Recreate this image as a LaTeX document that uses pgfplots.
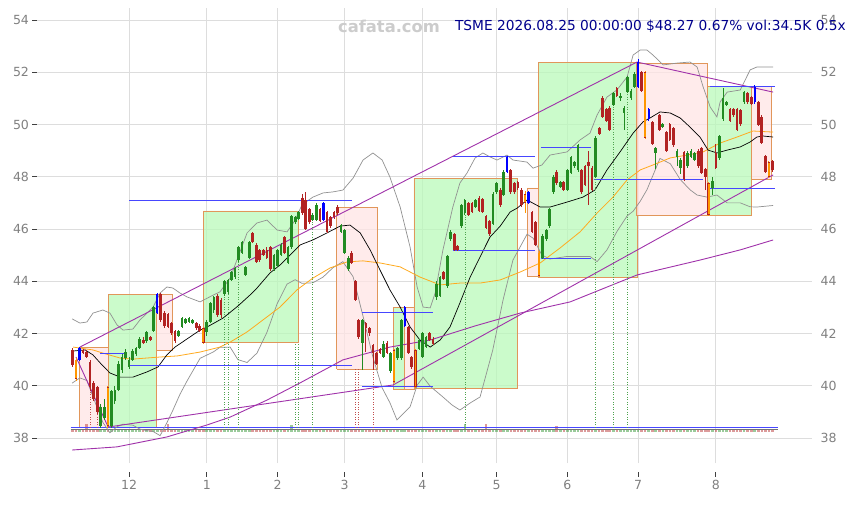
\documentclass[border=0pt]{standalone}
\usepackage{fontspec}
\setmainfont{DejaVu Sans}
\usepackage{pgfplots}
\usepackage{pgfplotstable}
\pgfplotsset{compat=1.18}
\definecolor{cgreen}{RGB}{34,139,34}
\definecolor{cred}{RGB}{178,34,34}
\definecolor{cblue}{RGB}{0,0,255}
\definecolor{corange}{RGB}{255,150,0}
\definecolor{boxg}{RGB}{185,250,185}
\definecolor{boxr}{RGB}{255,228,228}
\definecolor{boxedge}{RGB}{225,150,90}
\definecolor{tickgrey}{RGB}{128,128,128}
\definecolor{gridgrey}{RGB}{221,221,221}
\definecolor{purp}{RGB}{160,50,170}
\definecolor{bbgrey}{RGB}{145,145,145}
\definecolor{navy2}{RGB}{0,0,140}
\definecolor{wm}{RGB}{204,204,204}
\definecolor{hblue}{RGB}{70,70,255}
\definecolor{maorange}{RGB}{255,170,30}

\pgfplotstableread{
i o h l c t v
0 41.35 41.45 40.70 40.80 0 0.13
1 41.00 41.05 40.20 40.25 3 0.12
2 41.00 41.50 40.95 41.45 2 0.13
3 41.35 41.40 41.20 41.25 0 0.12
4 41.30 41.35 41.05 41.10 0 0.32
5 40.90 41.00 39.80 39.95 0 0.13
6 40.10 40.20 39.40 39.50 0 0.12
7 39.95 40.00 38.90 39.00 0 0.14
8 38.45 39.30 38.40 39.20 1 0.13
9 38.75 39.50 38.70 39.20 1 0.12
10 39.95 40.00 38.40 38.45 3 0.14
11 38.45 39.85 38.40 39.80 1 0.13
12 39.40 40.00 39.30 39.85 1 0.12
13 39.85 40.95 39.80 40.85 1 0.13
14 40.60 41.20 40.50 41.10 1 0.12
15 41.05 41.40 41.00 41.30 1 0.13
16 40.70 41.10 40.65 41.00 1 0.12
17 41.00 41.40 40.95 41.33 1 0.13
18 41.20 41.50 41.15 41.45 1 0.12
19 41.45 41.85 41.40 41.80 1 0.13
20 41.75 41.85 41.60 41.65 0 0.12
21 41.70 42.10 41.65 42.05 1 0.13
22 41.85 41.90 41.70 41.75 0 0.12
23 42.10 43.05 42.05 43.00 1 0.14
24 42.80 43.55 42.75 43.50 2 0.13
25 43.50 43.55 42.45 42.50 0 0.13
26 42.80 42.85 42.20 42.30 0 0.12
27 42.75 42.80 42.20 42.25 0 0.32
28 42.40 42.45 41.95 42.00 0 0.13
29 42.10 42.15 41.65 41.70 0 0.12
30 41.90 42.15 41.85 42.10 1 0.13
31 42.25 42.65 42.20 42.60 1 0.12
32 42.40 42.60 42.35 42.55 1 0.13
33 42.45 42.65 42.40 42.60 1 0.12
34 42.40 42.55 42.35 42.50 1 0.13
35 42.40 42.45 42.15 42.20 0 0.12
36 42.30 42.35 42.05 42.10 0 0.13
37 42.20 42.25 41.60 41.65 3 0.12
38 42.05 42.50 41.90 42.45 1 0.13
39 42.45 43.20 42.40 43.15 1 0.12
40 42.90 43.45 42.80 43.40 1 0.13
41 43.45 43.50 42.65 42.70 0 0.12
42 43.30 43.35 42.60 42.70 0 0.13
43 43.50 44.05 43.45 44.00 1 0.12
44 43.60 44.10 43.50 44.05 1 0.13
45 44.05 44.40 44.00 44.35 1 0.12
46 44.15 44.55 44.10 44.50 1 0.13
47 44.80 45.35 44.75 45.30 1 0.12
48 45.10 45.55 45.05 45.50 1 0.13
49 44.25 44.60 44.20 44.55 1 0.12
50 44.90 45.55 44.85 45.50 1 0.13
51 45.85 45.90 45.45 45.50 0 0.12
52 45.40 45.45 44.70 44.75 0 0.13
53 45.20 45.25 44.75 44.80 0 0.12
54 45.20 45.25 44.95 45.00 0 0.13
55 45.20 45.30 44.85 44.90 0 0.12
56 45.30 45.35 44.40 44.45 0 0.13
57 44.45 45.05 44.40 45.00 1 0.12
58 44.60 45.25 44.55 45.20 1 0.13
59 45.00 45.45 44.95 45.40 1 0.12
60 45.70 45.75 45.05 45.10 0 0.13
61 44.70 45.35 44.65 45.30 1 0.12
62 45.30 46.55 45.25 46.50 1 0.28
63 46.25 46.50 46.20 46.45 1 0.12
64 46.40 46.70 46.35 46.65 1 0.13
65 47.20 47.35 46.55 46.60 0 0.12
66 47.10 47.40 45.95 46.00 0 0.13
67 46.75 46.80 46.20 46.25 0 0.12
68 46.35 46.60 46.30 46.55 1 0.13
69 46.35 47.00 46.30 46.90 1 0.12
70 46.75 46.80 46.25 46.30 0 0.13
71 46.35 47.05 46.30 47.00 2 0.12
72 46.65 46.70 45.85 45.90 0 0.13
73 46.45 46.50 46.05 46.10 0 0.12
74 46.65 46.70 46.40 46.45 0 0.13
75 46.85 46.90 46.55 46.60 0 0.12
76 45.90 46.20 45.85 46.15 1 0.13
77 45.10 46.00 45.05 45.95 1 0.12
78 44.45 44.95 44.40 44.90 1 0.13
79 45.10 45.15 44.65 44.70 0 0.12
80 44.00 44.05 43.25 43.30 0 0.13
81 42.50 42.55 41.80 41.85 0 0.12
82 41.65 42.55 40.60 42.50 1 0.13
83 42.40 42.45 41.30 42.20 0 0.12
84 42.20 42.25 41.90 42.00 0 0.13
85 41.55 41.60 40.60 41.25 0 0.12
86 41.25 41.30 40.80 40.85 0 0.13
87 41.40 41.45 41.20 41.25 0 0.12
88 41.10 41.70 41.05 41.60 1 0.13
89 41.65 41.70 41.20 41.25 0 0.12
90 40.55 41.30 40.50 41.25 1 0.13
91 41.35 41.40 40.10 40.15 3 0.12
92 41.05 41.50 41.00 41.45 1 0.13
93 41.05 42.55 41.00 42.50 1 0.12
94 42.30 43.05 42.25 43.00 2 0.13
95 42.25 42.30 41.20 41.25 0 0.12
96 41.10 41.15 40.65 40.70 0 0.13
97 41.35 41.40 39.90 39.95 3 0.12
98 41.40 41.80 41.35 41.75 1 0.13
99 41.10 42.05 41.05 42.00 1 0.12
100 41.50 41.90 41.45 41.85 1 0.13
101 42.00 42.05 41.70 41.75 0 0.12
102 41.80 41.85 41.55 41.60 0 0.13
103 43.40 44.00 43.30 43.90 1 0.12
104 43.45 44.20 43.40 44.15 1 0.13
105 44.35 44.40 44.05 44.10 0 0.12
106 43.80 45.00 43.75 44.95 1 0.13
107 45.60 45.95 45.55 45.90 1 0.12
108 45.80 45.85 45.15 45.20 0 0.13
109 45.35 45.40 45.15 45.20 0 0.12
110 46.10 46.95 46.05 46.90 1 0.13
111 46.60 47.15 46.55 47.10 1 0.32
112 47.00 47.05 46.50 46.55 0 0.13
113 47.00 47.05 46.60 46.65 0 0.12
114 46.85 47.15 46.80 47.10 1 0.13
115 47.20 47.25 46.65 46.70 0 0.12
116 47.15 47.20 46.60 46.65 0 0.13
117 46.50 46.55 46.00 46.05 0 0.32
118 46.30 46.35 45.75 45.80 0 0.13
119 46.20 47.40 46.15 47.35 1 0.12
120 47.40 47.80 47.35 47.75 1 0.13
121 47.50 47.55 46.85 46.90 0 0.12
122 47.30 48.25 47.25 48.20 1 0.13
123 48.20 48.80 48.15 48.75 2 0.12
124 48.25 48.30 47.35 47.40 0 0.13
125 47.75 47.80 47.35 47.40 0 0.12
126 47.80 47.85 47.50 47.55 0 0.13
127 47.50 47.55 46.85 46.90 0 0.12
128 47.35 47.45 46.60 47.00 3 0.13
129 47.00 47.45 46.95 47.40 2 0.12
130 46.65 46.70 45.85 45.90 0 0.13
131 46.25 46.30 45.35 45.40 0 0.12
132 45.10 45.15 44.15 44.20 3 0.13
133 44.90 45.80 44.85 45.75 1 0.12
134 45.60 46.00 45.55 45.95 1 0.13
135 46.10 46.80 46.05 46.75 1 0.12
136 47.40 48.05 47.35 48.00 1 0.13
137 48.20 48.25 47.70 47.75 0 0.25
138 47.60 47.85 47.55 47.80 1 0.13
139 47.80 47.85 47.45 47.50 0 0.12
140 47.50 48.30 47.45 48.25 1 0.13
141 48.15 48.80 48.10 48.75 1 0.12
142 48.40 48.60 48.35 48.55 1 0.13
143 48.25 49.25 48.20 49.20 1 0.12
144 48.25 48.30 47.35 47.40 0 0.13
145 48.40 48.45 47.65 47.70 0 0.12
146 48.55 49.00 46.90 48.40 0 0.13
147 48.35 48.40 47.45 47.50 0 0.12
148 48.00 49.55 47.95 49.50 1 0.13
149 49.85 49.90 49.60 49.65 0 0.12
150 51.00 51.10 50.25 50.30 0 0.13
151 50.60 50.65 50.10 50.15 0 0.12
152 50.65 50.70 49.75 49.80 0 0.13
153 50.75 51.25 50.70 51.20 1 0.12
154 51.40 51.45 51.05 51.10 0 0.13
155 51.00 51.20 50.90 51.10 1 0.12
156 50.45 50.70 49.80 50.65 1 0.13
157 51.25 51.85 51.20 51.80 1 0.12
158 51.00 51.35 50.95 51.30 1 0.13
159 51.45 52.00 51.40 51.95 1 0.12
160 51.45 52.50 51.40 52.40 2 0.13
161 52.00 52.05 51.25 51.30 0 0.12
162 52.00 52.05 49.45 49.50 3 0.13
163 50.20 50.65 50.15 50.60 2 0.12
164 50.10 50.15 49.20 49.25 0 0.13
165 48.90 49.15 48.30 49.10 1 0.12
166 50.35 50.40 49.75 49.80 0 0.13
167 49.90 50.05 49.85 50.00 1 0.12
168 49.70 49.75 48.95 49.00 0 0.13
169 50.00 50.05 49.35 49.40 0 0.12
170 49.85 49.90 49.15 49.20 0 0.13
171 48.75 49.05 48.40 49.00 1 0.12
172 48.35 48.70 48.10 48.65 1 0.13
173 48.95 49.00 47.85 47.90 0 0.12
174 48.40 49.00 48.35 48.90 1 0.13
175 48.75 49.05 48.70 49.00 1 0.12
176 48.65 48.95 48.60 48.90 1 0.13
177 49.00 49.05 48.35 48.40 0 0.12
178 49.10 49.15 48.10 48.15 0 0.13
179 48.30 48.35 47.50 48.00 0 0.12
180 47.75 47.80 46.50 46.55 3 0.13
181 47.55 48.00 47.30 47.85 1 0.12
182 48.90 49.25 48.30 48.35 0 0.13
183 48.70 49.60 48.65 49.55 1 0.12
184 50.20 51.40 50.15 51.00 1 0.13
185 50.75 50.90 50.70 50.85 1 0.12
186 50.60 50.65 50.10 50.15 0 0.13
187 50.60 50.65 50.30 50.35 0 0.12
188 50.60 50.65 49.75 49.80 0 0.13
189 50.55 50.60 49.95 50.00 0 0.12
190 50.85 51.30 50.80 51.25 1 0.13
191 51.20 51.25 50.80 50.85 0 0.12
192 51.05 51.10 50.75 50.80 0 0.13
193 50.85 51.50 50.80 51.45 2 0.12
194 50.85 50.90 49.95 50.00 0 0.13
195 50.30 50.35 49.25 49.30 0 0.12
196 48.80 48.85 48.15 48.20 0 0.13
197 48.55 48.60 47.95 48.00 3 0.12
198 48.60 48.65 48.20 48.27 0 0.13
}\candles

\pgfplotstableread{
i b tp
43 38.40 43.45
44 38.40 43.50
47 38.40 44.75
63 38.40 41.64
64 38.40 41.64
68 38.40 46.30
111 38.40 46.55
148 38.40 47.95
153 38.40 50.70
157 38.40 51.20
}\dotg

\pgfplotstableread{
i b tp
5 38.40 39.80
7 38.40 38.90
80 38.40 40.64
81 38.40 40.64
85 38.40 40.60
}\dotr

\pgfplotstableread{
a b p
7.8 15.4 41.25
16.0 79.1 47.11
16.0 79.1 40.76
81.9 102.0 42.82
81.9 102.0 39.98
107.7 130.8 48.76
107.7 130.8 45.16
132.5 146.7 49.11
132.5 146.7 44.89
147.5 178.4 47.91
180.4 198.7 51.44
180.4 198.7 47.57
}\hlines

\pgfplotsset{
  gbox/.style={fill=boxg, fill opacity=0.75, draw=boxedge, line width=0.9bp, forget plot},
  rbox/.style={fill=boxr, fill opacity=0.75, draw=boxedge, line width=0.9bp, forget plot},
  bars/.style={draw=none, mark=none, forget plot},
}

\begin{document}
\begin{tikzpicture}
\begin{axis}[
  name=main, at={(0,0)}, anchor=south west,
  scale only axis, width=775bp, height=455bp,
  xmin=-10.03, xmax=209.2, ymin=37.043, ymax=54.459,
  axis line style={draw=none},
  xtick={16,38,58,77,99,120,140,160,182},
  xticklabels={12,1,2,3,4,5,6,7,8},
  ytick={38,40,...,54},
  xtick pos=bottom, ytick pos=left,
  tick align=outside,
  major tick length=4.5bp,
  tick style={color=black!75, line width=0.9bp},
  xtick style={yshift=-9bp},
  grid=major,
  major grid style={color=gridgrey, line width=0.9bp},
  tick label style={font=\fontsize{12.6}{14}\selectfont, text=tickgrey},
  xticklabel style={yshift=-9bp},
  /pgf/number format/assume math mode=true,
]
% boxes
\addplot[rbox] coordinates {(2.1,38.40) (10.1,38.40) (10.1,41.48) (2.1,41.48) (2.1,38.40)};
\addplot[gbox] coordinates {(10.1,38.42) (23.9,38.42) (23.9,43.51) (10.1,43.51) (10.1,38.42)};
\addplot[rbox] coordinates {(23.9,41.37) (28.2,41.37) (28.2,43.51) (23.9,43.51) (23.9,41.37)};
\addplot[gbox] coordinates {(37.0,41.64) (63.8,41.64) (63.8,46.69) (37.0,46.69) (37.0,41.64)};
\addplot[rbox] coordinates {(74.8,40.64) (86.2,40.64) (86.2,46.84) (74.8,46.84) (74.8,40.64)};
\addplot[gbox] coordinates {(90.7,39.84) (93.8,39.84) (93.8,42.98) (90.7,42.98) (90.7,39.84)};
\addplot[rbox] coordinates {(93.8,39.84) (96.6,39.84) (96.6,42.98) (93.8,42.98) (93.8,39.84)};
\addplot[gbox] coordinates {(96.6,39.88) (125.8,39.88) (125.8,47.95) (96.6,47.95) (96.6,39.88)};
\addplot[rbox] coordinates {(128.6,44.20) (131.7,44.20) (131.7,47.57) (128.6,47.57) (128.6,44.20)};
\addplot[gbox] coordinates {(131.7,44.16) (159.7,44.16) (159.7,52.39) (131.7,52.39) (131.7,44.16)};
\addplot[rbox] coordinates {(159.4,46.50) (179.5,46.50) (179.5,52.35) (159.4,52.35) (159.4,46.50)};
\addplot[gbox] coordinates {(179.5,46.50) (192.2,46.50) (192.2,51.44) (179.5,51.44) (179.5,46.50)};
\addplot[rbox] coordinates {(192.2,47.91) (197.6,47.91) (197.6,51.44) (192.2,51.44) (192.2,47.91)};

% volume
\addplot[bars, restrict expr to domain={\thisrow{t}}{1:2}, error bars/.cd, y dir=both, y explicit, error mark=none, error bar style={draw=cgreen, line width=2.6bp, draw opacity=0.45}] table[x=i, y expr={38.22+\thisrow{v}/2}, y error expr={\thisrow{v}/2}] {\candles};
\addplot[bars, restrict expr to domain={mod(\thisrow{t},3)}{0:0}, error bars/.cd, y dir=both, y explicit, error mark=none, error bar style={draw=cred, line width=2.6bp, draw opacity=0.45}] table[x=i, y expr={38.22+\thisrow{v}/2}, y error expr={\thisrow{v}/2}] {\candles};
\addplot[color=black!55, line width=0.8bp] coordinates {(-0.5,38.34) (199.5,38.34)};
\addplot[color=hblue, line width=1.1bp] coordinates {(-0.5,38.40) (199.5,38.40)};

% Bollinger bands
\addplot[color=bbgrey, line width=0.7bp] coordinates {
(-0.1,42.56) (2.1,42.40) (4.1,42.44) (5.8,42.78) (8.6,42.90) (10.6,42.78) (12.6,42.33) (14.3,42.13) (17.1,42.17) (19.1,42.52) (21.1,42.78) (22.8,43.01) (24.8,43.55) (26.7,43.78) (28.4,43.74) (30.4,43.55) (32.4,43.40) (36.1,43.21) (39.8,43.47) (41.7,43.59) (44.6,44.12) (49.4,45.85) (52.2,46.23) (55.0,46.34) (57.9,45.96) (60.7,45.89) (63.0,46.34) (64.9,46.92) (68.0,47.22) (70.9,47.38) (73.7,47.42) (76.5,47.49) (79.4,47.95) (82.2,48.64) (85.0,48.91) (87.6,48.64) (89.8,47.99) (92.7,46.84) (95.5,45.31) (97.5,43.78) (99.2,43.01) (101.2,42.98) (102.6,43.55) (104.8,45.20) (107.6,46.84) (109.6,47.76) (111.6,48.14) (113.9,48.72) (116.1,48.91) (118.1,48.76) (120.1,48.64) (122.9,48.83) (124.6,48.64) (128.6,48.56) (130.3,48.33) (132.8,48.45) (135.1,48.83) (139.9,48.95) (143.6,49.41) (146.4,49.67) (148.4,50.36) (151.2,51.05) (154.0,51.32) (156.9,51.82) (158.6,52.66) (160.6,52.85) (162.5,52.85) (164.2,52.66) (167.1,52.28) (171.0,52.35) (174.7,52.39) (176.7,52.20) (178.4,51.44) (180.4,50.67) (182.3,50.29) (183.2,50.86) (185.2,51.24) (188.9,51.32) (191.7,52.09) (193.6,52.20) (198.2,52.20)};
\addplot[color=bbgrey, line width=0.7bp] coordinates {
(-0.1,40.10) (2.1,40.30) (4.1,40.20) (5.8,39.58) (8.6,38.60) (10.6,38.20) (12.6,38.43) (14.3,38.53) (17.1,38.49) (19.1,38.34) (21.1,38.28) (22.8,38.25) (24.8,38.09) (26.7,38.58) (28.4,39.06) (30.4,39.67) (32.4,40.18) (36.1,41.05) (39.8,41.29) (41.7,41.47) (44.6,41.48) (46.8,41.00) (49.4,40.89) (52.2,41.25) (55.0,42.04) (57.9,43.14) (60.7,43.89) (63.0,44.06) (64.9,43.92) (68.0,43.94) (70.9,44.16) (73.7,44.52) (76.5,44.75) (79.4,44.17) (82.2,42.66) (85.0,41.09) (87.6,39.92) (89.8,39.35) (91.8,38.69) (95.5,39.19) (97.5,40.02) (99.2,40.33) (101.2,39.98) (104.8,39.57) (107.4,39.26) (109.6,39.07) (112.5,39.34) (115.3,39.57) (118.9,41.37) (121.8,43.28) (124.6,44.81) (128.6,45.80) (130.3,45.65) (132.8,45.00) (135.1,44.85) (139.9,44.95) (143.6,44.95) (146.4,44.95) (148.4,44.75) (151.2,45.20) (154.0,45.90) (156.9,46.50) (158.6,46.68) (160.6,47.06) (162.5,47.50) (164.2,48.05) (166.2,48.70) (169.1,48.50) (171.9,47.90) (174.7,47.50) (176.7,47.30) (179.5,47.22) (182.3,47.30) (185.2,47.00) (188.9,47.00) (191.7,46.85) (193.6,46.84) (198.2,46.90)};

% moving averages
\addplot[color=maorange, line width=0.8bp] coordinates {
(0.2,41.48) (5.8,41.37) (8.6,41.25) (13.5,41.06) (17.1,41.02) (24.8,41.10) (29.6,41.14) (36.1,41.29) (41.7,41.48) (44.6,41.67) (49.4,42.06) (53.9,42.52) (58.7,43.01) (63.5,43.67) (68.0,44.12) (72.9,44.51) (77.7,44.74) (82.2,44.78) (87.0,44.70) (92.7,44.55) (98.3,44.16) (104.0,43.86) (109.6,43.93) (115.3,43.93) (121.0,44.05) (126.6,44.35) (132.3,44.70) (137.9,45.27) (143.6,45.89) (148.4,46.61) (152.9,47.22) (156.9,47.88) (160.6,48.26) (164.2,48.45) (169.1,48.72) (173.9,48.83) (178.4,48.95) (183.2,49.29) (188.0,49.52) (192.5,49.75) (198.2,49.71)};
\addplot[color=black, line width=0.7bp] coordinates {
(0.2,41.33) (3.6,41.37) (5.8,41.18) (8.4,40.79) (10.6,40.49) (13.5,40.33) (17.1,40.33) (21.1,40.53) (24.2,40.72) (26.7,41.18) (29.0,41.48) (32.4,41.79) (36.1,42.13) (38.1,42.25) (42.6,42.59) (46.8,43.05) (50.2,43.47) (52.2,43.74) (55.9,44.32) (58.7,44.62) (62.1,45.08) (64.4,45.39) (68.0,45.58) (72.0,45.85) (75.7,46.11) (78.5,46.15) (81.4,45.85) (84.2,45.20) (87.0,44.43) (89.8,43.67) (92.7,43.01) (95.5,42.25) (98.3,41.75) (101.2,41.48) (104.0,41.75) (106.8,42.25) (109.6,43.17) (112.5,44.16) (115.3,44.93) (118.1,45.69) (121.0,46.11) (123.8,46.65) (125.8,46.80) (128.6,47.11) (132.3,46.84) (135.1,46.84) (139.9,47.03) (144.4,47.22) (147.8,47.49) (151.2,48.26) (154.9,48.95) (158.6,49.67) (161.4,50.10) (163.4,50.25) (166.2,50.48) (169.1,50.44) (171.9,50.25) (174.7,49.90) (177.5,49.52) (179.8,49.02) (182.3,48.91) (185.2,49.02) (188.9,49.14) (191.7,49.33) (193.6,49.52) (195.3,49.56) (198.2,49.52)};

% purple lines
\addplot[color=purp, line width=0.9bp] coordinates {
(-0.1,37.54) (12.6,37.66) (26.7,38.04) (38.1,38.50) (44.6,38.80) (55.0,39.45) (64.4,40.11) (76.5,40.99) (89.8,41.48) (101.2,41.75) (113.9,42.29) (126.6,42.78) (140.8,43.21) (159.7,44.24) (177.5,44.81) (188.9,45.20) (198.2,45.58)};
\addplot[color=purp, line width=0.9bp] coordinates {(1.0,41.10) (10.1,38.42) (90.7,40.03) (198.2,48.07)};
\addplot[color=purp, line width=0.9bp] coordinates {(2.1,41.48) (159.7,52.39) (198.2,51.24)};

% horizontal level lines
\addplot[bars, error bars/.cd, x dir=plus, x explicit, error mark=none, error bar style={draw=hblue, line width=0.9bp}] table[x=a, y=p, x error expr={\thisrow{b}-\thisrow{a}}] {\hlines};

% dotted verticals
\addplot[bars, error bars/.cd, y dir=plus, y explicit, error mark=none, error bar style={draw=cgreen!80, line width=0.7bp, dash pattern=on 1bp off 1.5bp}] table[x=i, y=b, y error expr={\thisrow{tp}-\thisrow{b}}] {\dotg};
\addplot[bars, error bars/.cd, y dir=plus, y explicit, error mark=none, error bar style={draw=cred!80, line width=0.7bp, dash pattern=on 1bp off 1.5bp}] table[x=i, y=b, y error expr={\thisrow{tp}-\thisrow{b}}] {\dotr};

% wicks
\addplot[bars, restrict expr to domain={\thisrow{t}}{0:0}, error bars/.cd, y dir=both, y explicit, error mark=none, error bar style={draw=cred, line width=0.8bp}] table[x=i, y expr={(\thisrow{h}+\thisrow{l})/2}, y error expr={(\thisrow{h}-\thisrow{l})/2}] {\candles};
\addplot[bars, restrict expr to domain={\thisrow{t}}{1:1}, error bars/.cd, y dir=both, y explicit, error mark=none, error bar style={draw=cgreen, line width=0.8bp}] table[x=i, y expr={(\thisrow{h}+\thisrow{l})/2}, y error expr={(\thisrow{h}-\thisrow{l})/2}] {\candles};
\addplot[bars, restrict expr to domain={\thisrow{t}}{2:2}, error bars/.cd, y dir=both, y explicit, error mark=none, error bar style={draw=cblue, line width=0.8bp}] table[x=i, y expr={(\thisrow{h}+\thisrow{l})/2}, y error expr={(\thisrow{h}-\thisrow{l})/2}] {\candles};
\addplot[bars, restrict expr to domain={\thisrow{t}}{3:3}, error bars/.cd, y dir=both, y explicit, error mark=none, error bar style={draw=corange, line width=0.8bp}] table[x=i, y expr={(\thisrow{h}+\thisrow{l})/2}, y error expr={(\thisrow{h}-\thisrow{l})/2}] {\candles};

% bodies
\addplot[bars, restrict expr to domain={\thisrow{t}}{0:0}, error bars/.cd, y dir=both, y explicit, error mark=none, error bar style={draw=cred, line width=2.7bp}] table[x=i, y expr={(\thisrow{o}+\thisrow{c})/2}, y error expr={max(abs(\thisrow{c}-\thisrow{o})/2,0.02)}] {\candles};
\addplot[bars, restrict expr to domain={\thisrow{t}}{1:1}, error bars/.cd, y dir=both, y explicit, error mark=none, error bar style={draw=cgreen, line width=2.7bp}] table[x=i, y expr={(\thisrow{o}+\thisrow{c})/2}, y error expr={max(abs(\thisrow{c}-\thisrow{o})/2,0.02)}] {\candles};
\addplot[bars, restrict expr to domain={\thisrow{t}}{2:2}, error bars/.cd, y dir=both, y explicit, error mark=none, error bar style={draw=cblue, line width=2.2bp}] table[x=i, y expr={(\thisrow{o}+\thisrow{c})/2}, y error expr={max(abs(\thisrow{c}-\thisrow{o})/2,0.02)}] {\candles};
\addplot[bars, restrict expr to domain={\thisrow{t}}{3:3}, error bars/.cd, y dir=both, y explicit, error mark=none, error bar style={draw=cred, line width=2.6bp}] table[x=i, y expr={(\thisrow{o}+\thisrow{c})/2}, y error expr={max(abs(\thisrow{c}-\thisrow{o})/2,0.02)}] {\candles};
\addplot[bars, restrict expr to domain={\thisrow{t}}{3:3}, error bars/.cd, y dir=both, y explicit, error mark=none, error bar style={draw=corange, line width=1.6bp}] table[x=i, y expr={(\thisrow{o}+\thisrow{c})/2}, y error expr={max(abs(\thisrow{c}-\thisrow{o})/2-0.03,0.02)}] {\candles};
\end{axis}

\begin{axis}[
  at={(0,0)}, anchor=south west,
  scale only axis, width=775bp, height=455bp,
  xmin=-10.03, xmax=209.2, ymin=37.043, ymax=54.459,
  hide x axis, axis y line*=right, axis line style={draw=none},
  ytick={38,40,...,54}, major tick length=0pt,
  tick label style={font=\fontsize{12.6}{14}\selectfont, text=tickgrey},
  yticklabel style={xshift=5bp},
  /pgf/number format/assume math mode=true,
]
\addplot[draw=none] coordinates {(0,40)};
\end{axis}

\node[font=\bfseries\fontsize{16.4}{18}\selectfont, text=wm, inner sep=0pt] at ([shift={(352bp,437bp)}]main.south west) {cafata.com};
\node[anchor=east, font=\fontsize{13.8}{16}\selectfont, text=navy2, inner sep=0pt] at ([shift={(809bp,437bp)}]main.south west) {TSME 2026.08.25 00:00:00 \$48.27 0.67\% vol:34.5K 0.5x};

\pgfresetboundingbox
\path[use as bounding box] ([shift={(-37bp,-42bp)}]main.south west) rectangle ([shift={(819bp,463bp)}]main.south west);
\end{tikzpicture}
\end{document}
